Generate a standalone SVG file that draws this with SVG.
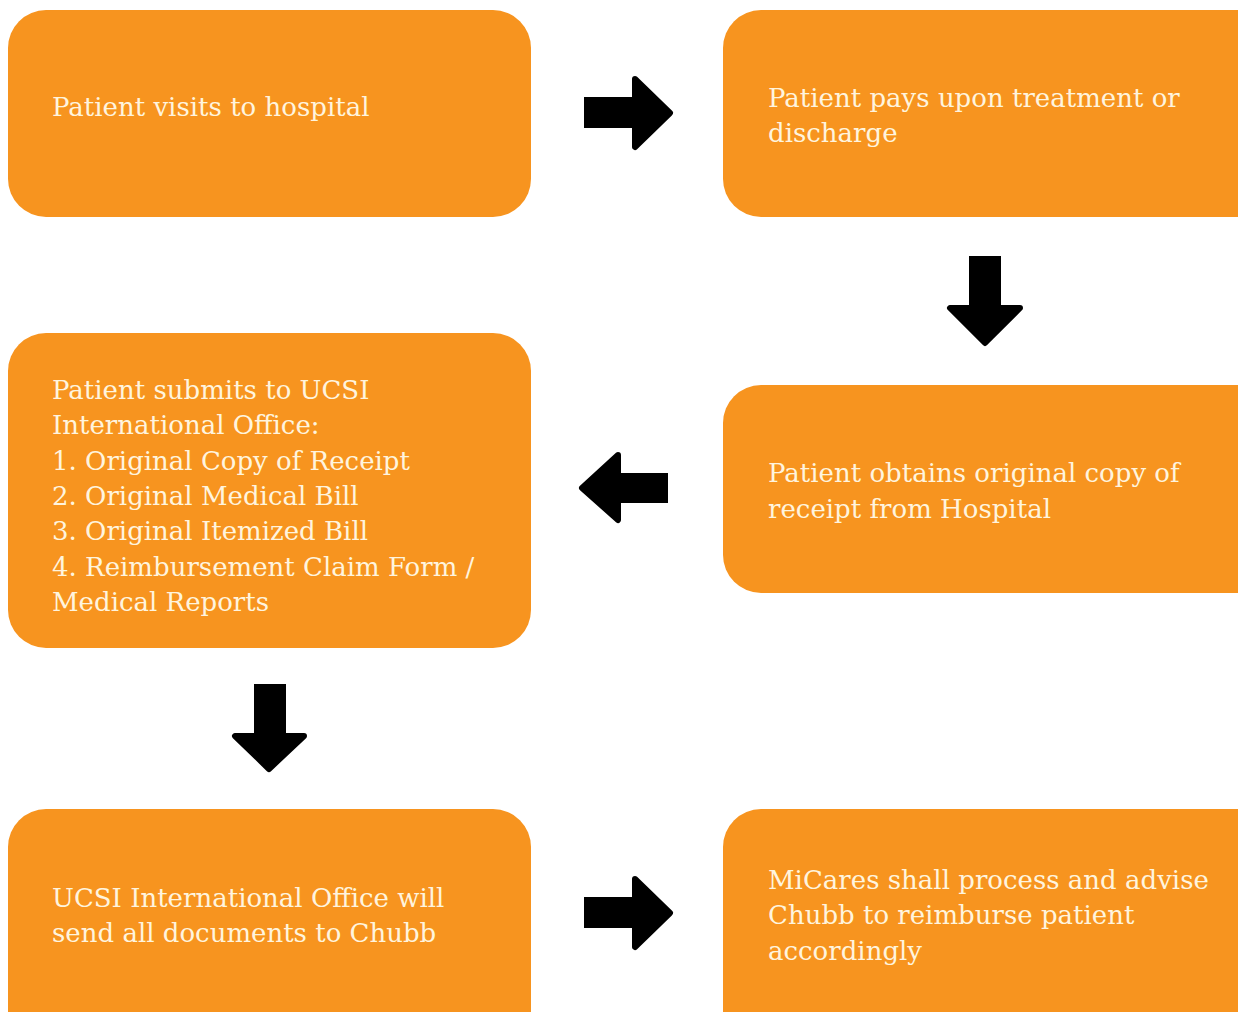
<svg xmlns="http://www.w3.org/2000/svg" width="1238" height="1012" viewBox="0 0 1238 1012">
<style>
.box{fill:#F7941F}
.t{font-family:"DejaVu Serif","Liberation Serif",serif;font-size:26px;fill:#FFF4DE}
.arr{fill:#000}
.head{fill:#000;stroke:#000;stroke-width:6;stroke-linejoin:round}
</style>
<rect width="1238" height="1012" fill="#fff"/>
<g id="node1">
<rect class="box" x="8" y="10" width="523" height="207" rx="38"/>
<text class="t" x="52" y="116">Patient visits to hospital</text>
</g>
<g id="node2">
<rect class="box" x="723" y="10" width="560" height="207" rx="38"/>
<text class="t" x="768" y="107">Patient pays upon treatment or</text>
<text class="t" x="768" y="142">discharge</text>
</g>
<g id="node3">
<rect class="box" x="8" y="333" width="523" height="315" rx="38"/>
<text class="t" x="52" y="399">Patient submits to UCSI</text>
<text class="t" x="52" y="434">International Office:</text>
<text class="t" x="52" y="470">1. Original Copy of Receipt</text>
<text class="t" x="52" y="505">2. Original Medical Bill</text>
<text class="t" x="52" y="540">3. Original Itemized Bill</text>
<text class="t" x="52" y="576">4. Reimbursement Claim Form /</text>
<text class="t" x="52" y="611">Medical Reports</text>
</g>
<g id="node4">
<rect class="box" x="723" y="385" width="560" height="208" rx="38"/>
<text class="t" x="768" y="482">Patient obtains original copy of</text>
<text class="t" x="768" y="518">receipt from Hospital</text>
</g>
<g id="node5">
<rect class="box" x="8" y="809" width="523" height="260" rx="38"/>
<text class="t" x="52" y="907">UCSI International Office will</text>
<text class="t" x="52" y="942">send all documents to Chubb</text>
</g>
<g id="node6">
<rect class="box" x="723" y="809" width="560" height="260" rx="38"/>
<text class="t" x="768" y="889">MiCares shall process and advise</text>
<text class="t" x="768" y="924">Chubb to reimburse patient</text>
<text class="t" x="768" y="960">accordingly</text>
</g>
<g id="connectors">
<g id="a1">
<rect class="arr" x="584" y="97" width="52" height="31"/>
<polygon class="head" points="635,79 670,113 635,147"/>
</g>
<g id="a2">
<rect class="arr" x="969" y="256" width="32" height="53"/>
<polygon class="head" points="950,308 1020,308 985,343"/>
</g>
<g id="a3">
<rect class="arr" x="616" y="473" width="52" height="30"/>
<polygon class="head" points="618,455 582,488 618,520"/>
</g>
<g id="a4">
<rect class="arr" x="254" y="684" width="32" height="53"/>
<polygon class="head" points="235,736 304,736 269,769"/>
</g>
<g id="a5">
<rect class="arr" x="584" y="897" width="52" height="31"/>
<polygon class="head" points="635,879 670,913 635,947"/>
</g>
</g>
</svg>
